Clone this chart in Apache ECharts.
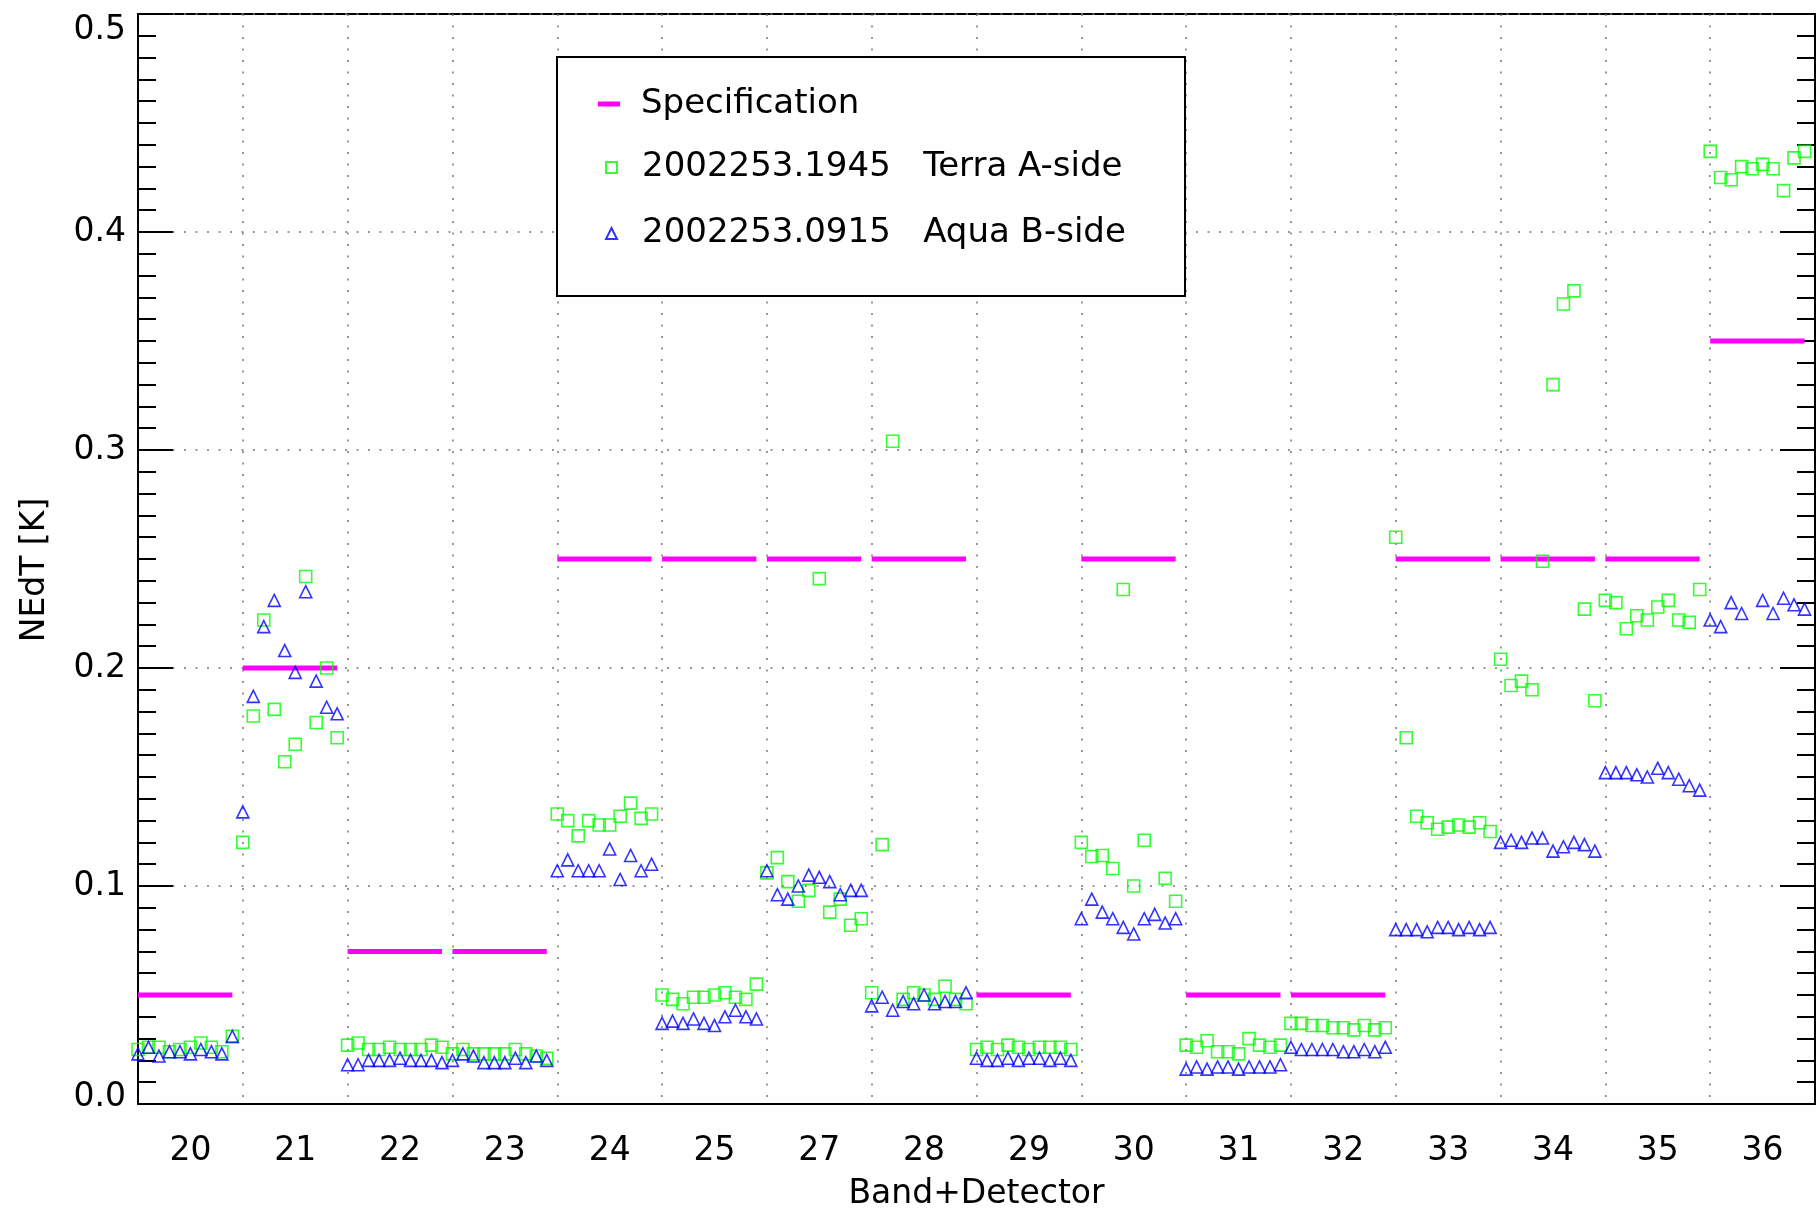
<!DOCTYPE html>
<html>
<head>
<meta charset="utf-8">
<script src="https://cdn.jsdelivr.net/npm/echarts@6/dist/echarts.min.js"></script>
<style>
  html, body { margin: 0; padding: 0; background: #fff; }
  #chart { width: 1817px; height: 1209px; }
</style>
</head>
<body>
<div id="chart"></div>
<script>
// ---- Data ----
const bands = ['20','21','22','23','24','25','27','28','29','30','31','32','33','34','35','36'];
const specValues = [0.05, 0.2, 0.07, 0.07, 0.25, 0.25, 0.25, 0.25, 0.05, 0.25, 0.05, 0.05, 0.25, 0.25, 0.25, 0.35];

// Terra A-side (2002253.1945), 10 detectors per band
const terra20 = [0.025, 0.026, 0.026, 0.024, 0.025, 0.026, 0.028, 0.026, 0.024, 0.031];
const terra21 = [0.120, 0.178, 0.222, 0.181, 0.157, 0.165, 0.242, 0.175, 0.200, 0.168];
const terra22 = [0.027, 0.028, 0.025, 0.025, 0.026, 0.025, 0.025, 0.025, 0.027, 0.026];
const terra23 = [0.023, 0.025, 0.023, 0.023, 0.023, 0.023, 0.025, 0.023, 0.022, 0.021];
const terra24 = [0.133, 0.130, 0.123, 0.130, 0.128, 0.128, 0.132, 0.138, 0.131, 0.133];
const terra25 = [0.050, 0.048, 0.046, 0.049, 0.049, 0.050, 0.051, 0.049, 0.048, 0.055];
const terra27 = [0.106, 0.113, 0.102, 0.093, 0.098, 0.241, 0.088, 0.094, 0.082, 0.085];
const terra28 = [0.051, 0.119, 0.304, 0.048, 0.051, 0.050, 0.048, 0.054, 0.048, 0.046];
const terra29 = [0.025, 0.026, 0.025, 0.027, 0.026, 0.025, 0.026, 0.026, 0.026, 0.025];
const terra30 = [0.120, 0.1135, 0.114, 0.108, 0.236, 0.100, 0.121, null, 0.1035, 0.093];
const terra31 = [0.027, 0.026, 0.029, 0.024, 0.024, 0.023, 0.030, 0.027, 0.026, 0.027];
const terra32 = [0.037, 0.037, 0.036, 0.036, 0.035, 0.035, 0.034, 0.036, 0.034, 0.035];
const terra33 = [0.260, 0.168, 0.132, 0.129, 0.126, 0.127, 0.128, 0.127, 0.129, 0.125];
const terra34 = [0.204, 0.192, 0.194, 0.190, 0.249, 0.330, 0.367, 0.373, 0.227, 0.185];
const terra35 = [0.231, 0.230, 0.218, 0.224, 0.222, 0.228, 0.231, 0.222, 0.221, 0.236];
const terra36 = [0.437, 0.425, 0.424, 0.430, 0.429, 0.431, 0.429, 0.419, 0.434, 0.437];

// Aqua B-side (2002253.0915)
const aqua20 = [0.023, 0.026, 0.022, 0.024, 0.024, 0.023, 0.025, 0.024, 0.023, 0.031];
const aqua21 = [0.134, 0.187, 0.219, 0.231, 0.208, 0.198, 0.235, 0.194, 0.182, 0.179];
const aqua22 = [0.018, 0.018, 0.020, 0.020, 0.020, 0.021, 0.020, 0.020, 0.020, 0.019];
const aqua23 = [0.020, 0.023, 0.022, 0.019, 0.019, 0.019, 0.021, 0.019, 0.022, 0.020];
const aqua24 = [0.107, 0.112, 0.107, 0.107, 0.107, 0.117, 0.103, 0.114, 0.107, 0.110];
const aqua25 = [0.037, 0.038, 0.037, 0.039, 0.037, 0.036, 0.040, 0.043, 0.040, 0.039];
const aqua27 = [0.107, 0.096, 0.094, 0.100, 0.105, 0.104, 0.102, 0.096, 0.098, 0.098];
const aqua28 = [0.045, 0.049, 0.043, 0.047, 0.046, 0.050, 0.046, 0.047, 0.047, 0.051];
const aqua29 = [0.021, 0.020, 0.020, 0.021, 0.020, 0.021, 0.021, 0.020, 0.021, 0.020];
const aqua30 = [0.085, 0.094, 0.088, 0.085, 0.081, 0.078, 0.085, 0.087, 0.083, 0.085];
const aqua31 = [0.016, 0.017, 0.016, 0.017, 0.017, 0.016, 0.017, 0.017, 0.017, 0.018];
const aqua32 = [0.026, 0.025, 0.025, 0.025, 0.025, 0.024, 0.024, 0.025, 0.024, 0.026];
const aqua33 = [0.080, 0.080, 0.080, 0.079, 0.081, 0.081, 0.080, 0.081, 0.080, 0.081];
const aqua34 = [0.120, 0.121, 0.120, 0.122, 0.122, 0.116, 0.118, 0.120, 0.119, 0.116];
const aqua35 = [0.152, 0.152, 0.152, 0.151, 0.150, 0.154, 0.152, 0.149, 0.146, 0.144];
const aqua36 = [0.222, 0.219, 0.230, 0.225, null, 0.231, 0.225, 0.232, 0.229, 0.227];

const yTicks = ['0.0', '0.1', '0.2', '0.3', '0.4', '0.5'];

const legendSpec = 'Specification';
const legendTerra = '2002253.1945   Terra A-side';
const legendAqua = '2002253.0915   Aqua B-side';

// ---- Build series data ----
const terraBands = [terra20, terra21, terra22, terra23, terra24, terra25, terra27, terra28,
                    terra29, terra30, terra31, terra32, terra33, terra34, terra35, terra36];
const aquaBands = [aqua20, aqua21, aqua22, aqua23, aqua24, aqua25, aqua27, aqua28,
                   aqua29, aqua30, aqua31, aqua32, aqua33, aqua34, aqua35, aqua36];
const DET = 10;

function toPoints(arrs) {
  const out = [];
  arrs.forEach((arr, b) => {
    arr.forEach((v, d) => { if (v !== null) out.push([b * DET + d, v]); });
  });
  return out;
}
const terraData = toPoints(terraBands);
const aquaData = toPoints(aquaBands);
const specData = [];
specValues.forEach((v, b) => {
  specData.push([b * DET, v]);
  specData.push([b * DET + DET - 1, v]);
  specData.push([b * DET + DET - 0.5, '-']);
});

const FONT = 'DejaVu Sans';
const AX_FS = 33;
const LG_FS = 34;
const dotted = { color: '#777', width: 1.5, type: [2, 9.5] };

const chart = echarts.init(document.getElementById('chart'), null, { renderer: 'canvas' });
chart.setOption({
  backgroundColor: '#fff',
  animation: false,
  grid: {
    left: 138, right: 2, top: 14, bottom: 105, outerBoundsMode: 'none', containLabel: false,
    show: true, borderColor: '#000', borderWidth: 2, backgroundColor: 'transparent'
  },
  xAxis: [
    {
      type: 'value', min: 0, max: bands.length * DET, interval: DET,
      axisLine: { show: true, lineStyle: { color: '#000', width: 2 } },
      axisTick: { show: false }, axisLabel: { show: false },
      splitLine: { show: true, lineStyle: dotted },
      name: 'Band+Detector', nameLocation: 'middle', nameGap: 74,
      nameTextStyle: { fontSize: AX_FS, fontFamily: FONT, color: '#000' }
    },
    {
      type: 'category', data: bands, boundaryGap: true, position: 'bottom',
      axisLine: { show: false }, axisTick: { show: false }, splitLine: { show: false },
      axisLabel: { fontSize: AX_FS, fontFamily: FONT, color: '#000', margin: 31, interval: 0 }
    }
  ],
  yAxis: [
    {
      type: 'value', min: 0, max: 0.5, interval: 0.1, position: 'left',
      axisLine: { show: true, lineStyle: { color: '#000', width: 2 } },
      axisTick: { show: true, inside: true, length: 35, lineStyle: { color: '#000', width: 2 } },
      minorTick: { show: true, splitNumber: 10, length: 18, lineStyle: { color: '#000', width: 2 } },
      axisLabel: {
        fontSize: AX_FS, fontFamily: FONT, color: '#000', margin: 12,
        formatter: (v) => {
          const i = Math.round(v * 10);
          if (i === 0) return '{lo|' + yTicks[i] + '}';
          if (i === yTicks.length - 1) return '{hi|' + yTicks[i] + '}';
          return yTicks[i];
        },
        rich: {
          lo: { fontSize: AX_FS, fontFamily: FONT, color: '#000', padding: [0, 0, 14, 0] },
          hi: { fontSize: AX_FS, fontFamily: FONT, color: '#000', padding: [32, 0, 0, 0] }
        }
      },
      splitLine: { show: true, lineStyle: dotted },
      name: 'NEdT [K]', nameLocation: 'middle', nameGap: 86,
      nameTextStyle: { fontSize: AX_FS, fontFamily: FONT, color: '#000', padding: [0, 22, 0, 0] }
    },
    {
      type: 'value', min: 0, max: 0.5, interval: 0.1, position: 'right',
      axisLine: { show: true, lineStyle: { color: '#000', width: 2 } },
      axisTick: { show: true, inside: true, length: 35, lineStyle: { color: '#000', width: 2 } },
      minorTick: { show: true, splitNumber: 10, length: 18, lineStyle: { color: '#000', width: 2 } },
      axisLabel: { show: false },
      splitLine: { show: false }
    }
  ],
  graphic: [
    {
      type: 'rect', z: 3,
      shape: { x: 557, y: 57, width: 628, height: 239 },
      style: { fill: '#fff', stroke: '#000', lineWidth: 2 }
    }
  ],
  legend: [
    {
      data: [{ name: legendSpec, icon: 'rect' }], left: 598, top: 86, padding: 0, z: 10,
      itemWidth: 22, itemHeight: 5, selectedMode: false,
      textStyle: { fontSize: LG_FS, fontFamily: FONT, color: '#000', lineHeight: 34, padding: [2, 0, 0, 16] }
    },
    {
      data: [{ name: legendTerra }], left: 605, top: 149, padding: 0, z: 10,
      itemWidth: 11, itemHeight: 11, selectedMode: false,
      textStyle: { fontSize: LG_FS, fontFamily: FONT, color: '#000', lineHeight: 34, padding: [3, 0, 0, 20] }
    },
    {
      data: [{ name: legendAqua }], left: 605, top: 215, padding: 0, z: 10,
      itemWidth: 11, itemHeight: 11, selectedMode: false,
      textStyle: { fontSize: LG_FS, fontFamily: FONT, color: '#000', lineHeight: 34, padding: [3, 0, 0, 20] }
    }
  ],
  series: [
    {
      name: legendSpec, type: 'line', data: specData, xAxisIndex: 0, yAxisIndex: 0,
      symbol: 'none', connectNulls: false, color: '#ff00ff',
      lineStyle: { color: '#ff00ff', width: 5 }, z: 2
    },
    {
      name: legendTerra, type: 'scatter', data: terraData, xAxisIndex: 0, yAxisIndex: 0,
      symbol: 'rect', symbolSize: 12,
      itemStyle: { color: 'rgba(0,0,0,0)', borderColor: '#00ff00', borderWidth: 1.6 }, z: 3
    },
    {
      name: legendAqua, type: 'scatter', data: aquaData, xAxisIndex: 0, yAxisIndex: 0,
      symbol: 'triangle', symbolSize: 12,
      itemStyle: { color: 'rgba(0,0,0,0)', borderColor: '#0000ff', borderWidth: 1.6 }, z: 4
    }
  ]
});
</script>
</body>
</html>
